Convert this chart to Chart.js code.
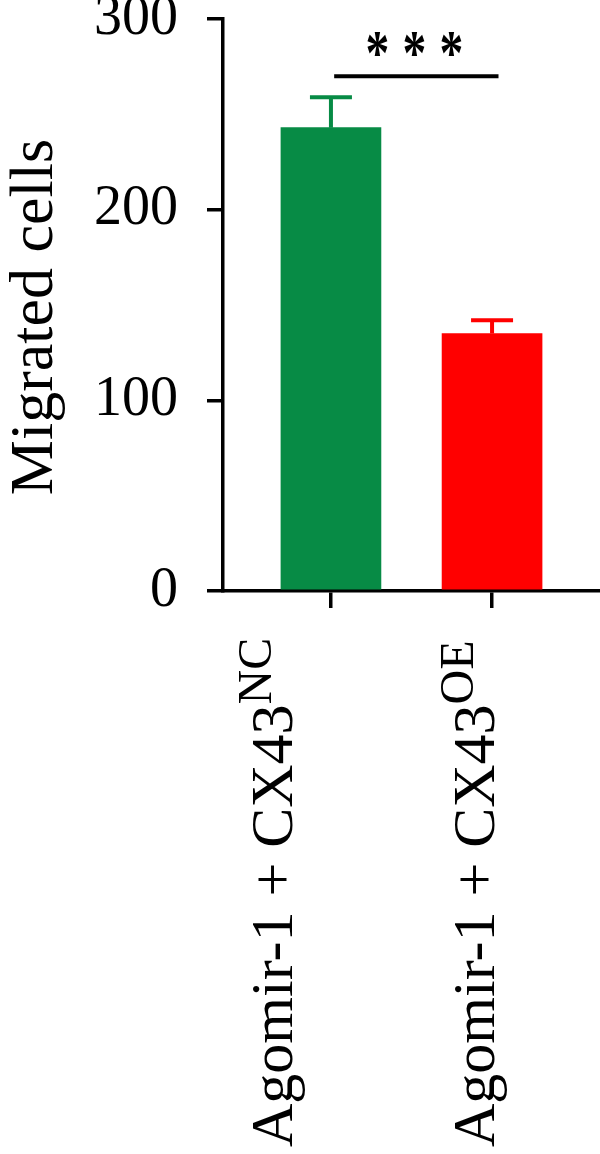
<!DOCTYPE html>
<html>
<head>
<meta charset="utf-8">
<script src="https://cdn.jsdelivr.net/npm/chart.js@4.4.1/dist/chart.umd.min.js"></script>
<style>
  html, body { margin: 0; padding: 0; background: #fff; }
  #wrap { width: 600px; height: 1154px; }
</style>
</head>
<body>
<div id="wrap"><canvas id="myChart" width="600" height="1154"></canvas></div>
<script>
// values
const groups = ['Agomir-1 + CX43', 'Agomir-1 + CX43'];
const groupSup = ['NC', 'OE'];
const migrated = [243, 135];
const migratedErr = [16, 7];
const yTicks = [0, 100, 200, 300];
const sigLine = { from: 1.02, to: 2.04, at: 270, stars: 3 };
const yTitle = 'Migrated cells';

const serif = '"Liberation Serif", "Times New Roman", serif';
const barColors = ['#078b45', '#ff0000'];

// error bars, significance bar, axis title and the rotated labels with superscripts
const extras = {
  id: 'extras',
  afterDatasetsDraw(chart) {
    const ctx = chart.ctx;
    const ys = chart.scales.y;
    const meta = chart.getDatasetMeta(0);
    ctx.save();
    ctx.lineWidth = 4;
    meta.data.forEach((bar, i) => {
      const top = ys.getPixelForValue(migrated[i] + migratedErr[i]);
      ctx.strokeStyle = barColors[i];
      ctx.beginPath();
      ctx.moveTo(bar.x, bar.y);
      ctx.lineTo(bar.x, top);
      ctx.moveTo(bar.x - 21, top);
      ctx.lineTo(bar.x + 21, top);
      ctx.stroke();
    });
    ctx.restore();
  },
  afterDraw(chart) {
    const ctx = chart.ctx;
    const xs = chart.scales.x, ys = chart.scales.y;
    ctx.save();
    ctx.fillStyle = '#000';

    // significance line + stars
    const y = ys.getPixelForValue(sigLine.at);
    const x1 = xs.getPixelForValue(sigLine.from), x2 = xs.getPixelForValue(sigLine.to);
    ctx.strokeStyle = '#000';
    ctx.lineWidth = 4;
    ctx.beginPath();
    ctx.moveTo(x1, y);
    ctx.lineTo(x2, y);
    ctx.stroke();

    // fit the asterisk glyph into a ~20 x 24 box
    ctx.font = 'bold 100px ' + serif;
    const m = ctx.measureText('*');
    const gw = m.actualBoundingBoxLeft + m.actualBoundingBoxRight;
    const gh = m.actualBoundingBoxAscent + m.actualBoundingBoxDescent;
    const sx = 20 / gw, sy = 24 / gh;
    const cy = y - 31;
    const cx = (x1 + x2) / 2 - 2;
    for (let k = 0; k < sigLine.stars; k++) {
      ctx.save();
      ctx.translate(cx + (k - 1) * 37, cy);
      ctx.scale(sx, sy);
      ctx.textAlign = 'left';
      ctx.textBaseline = 'alphabetic';
      ctx.fillText('*',
        -(m.actualBoundingBoxRight - m.actualBoundingBoxLeft) / 2,
        (m.actualBoundingBoxAscent - m.actualBoundingBoxDescent) / 2);
      ctx.restore();
    }

    // y title
    ctx.save();
    ctx.translate(52, 317);
    ctx.rotate(-Math.PI / 2);
    ctx.textAlign = 'center';
    ctx.font = '62px ' + serif;
    ctx.fillText(yTitle, 0, 0);
    ctx.restore();

    // x labels
    const shift = [-39, 2];
    groups.forEach((g, i) => {
      const bx = xs.getPixelForValue(i + 1) + shift[i];
      ctx.save();
      ctx.translate(bx, 1147);
      ctx.rotate(-Math.PI / 2);
      ctx.textAlign = 'left';
      ctx.font = '60px ' + serif;
      ctx.fillText(g, 0, 0);
      const w = ctx.measureText(g).width;
      ctx.font = '48px ' + serif;
      ctx.fillText(groupSup[i], w, -21);
      ctx.restore();
    });
    ctx.restore();
  }
};

new Chart(document.getElementById('myChart').getContext('2d'), {
  type: 'bar',
  data: {
    datasets: [{
      data: migrated.map((v, i) => ({ x: i + 1, y: v })),
      backgroundColor: barColors,
      borderWidth: 0,
      barThickness: 100
    }]
  },
  options: {
    responsive: false,
    animation: false,
    layout: { padding: { top: 19, right: 0, left: 0, bottom: 0 } },
    plugins: { legend: { display: false }, tooltip: { enabled: false } },
    scales: {
      x: {
        type: 'linear',
        min: 0.33,
        max: 2.67,
        offset: false,
        afterBuildTicks(s) { s.ticks = [{ value: 1 }, { value: 2 }]; },
        afterFit(s) { s.height = 1154 - 591; s.paddingLeft = 0; s.paddingRight = 0; },
        ticks: { callback: () => '' },
        grid: { offset: false, drawOnChartArea: false, drawTicks: true, tickLength: 17, color: '#000', lineWidth: 3.5 },
        border: { display: true, color: '#000', width: 3.5 }
      },
      y: {
        min: 0,
        max: 300,
        afterBuildTicks(s) { s.ticks = yTicks.map(v => ({ value: v })); },
        afterFit(s) { s.width = 223; s.paddingTop = 0; s.paddingBottom = 0; },
        ticks: { color: '#000', padding: 29, font: { family: serif, size: 56 } },
        grid: { drawOnChartArea: false, drawTicks: true, tickLength: 16, color: '#000', lineWidth: 3.5 },
        border: { display: true, color: '#000', width: 3.5 }
      }
    }
  },
  plugins: [extras]
});
</script>
</body>
</html>
